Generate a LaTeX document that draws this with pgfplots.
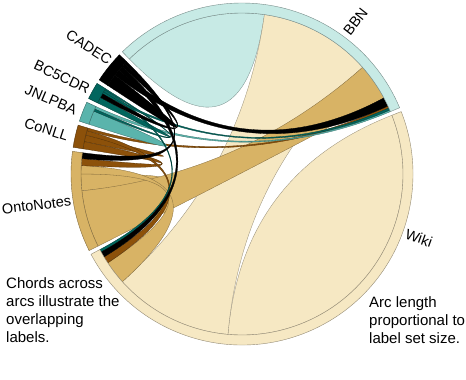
\documentclass[border=0pt]{standalone}
\usepackage{pgfplots}
\pgfplotsset{compat=1.18}
\usepackage{fontspec}
\setmainfont{Liberation Sans}

% BrBG palette + black for CADEC
\definecolor{cBBN}{HTML}{C7EAE5}
\definecolor{cWiki}{HTML}{F6E8C3}
\definecolor{cOnto}{HTML}{D8B365}
\definecolor{cConll}{HTML}{8C510A}
\definecolor{cJnl}{HTML}{5AB4AC}
\definecolor{cBc}{HTML}{01665E}
\definecolor{cCadec}{HTML}{000000}

% angles in degrees (counter-clockwise), inner radius 161, outer 171
\newcommand\grp[3]{\fill[#3, draw=#3!60!black, line width=0.4pt]
  (#1:161pt) arc[start angle=#1, end angle=#2, radius=161pt]
  -- (#2:171pt) arc[start angle=#2, end angle=#1, radius=171pt] -- cycle;}
\newcommand\rib[5]{\fill[#5, draw=#5!60!black, line width=0.3pt]
  (#1:161pt) arc[start angle=#1, end angle=#2, radius=161pt]
  .. controls (#2:53.67pt) and (#3:53.67pt) .. (#3:161pt)
  arc[start angle=#3, end angle=#4, radius=161pt]
  .. controls (#4:53.67pt) and (#1:53.67pt) .. cycle;}
\newcommand\petal[3]{\fill[#3, draw=#3!60!black, line width=0.3pt]
  (#1:161pt) arc[start angle=#1, end angle=#2, radius=161pt]
  .. controls (#2:53.67pt) and (#1:53.67pt) .. cycle;}
\newcommand\lab{\fontsize{14.5}{17}\selectfont}
\newcommand\note{\fontsize{15}{18}\selectfont}

\begin{document}
\begin{tikzpicture}
\begin{axis}[
  x=1pt, y=1pt,
  xmin=0, xmax=466, ymin=0, ymax=380,
  hide axis,
  clip=false,
]
\begin{scope}[shift={(axis cs:242,206)}]
% self chords
\petal{381.4}{265.0}{cWiki}
\petal{134.4}{82.0}{cBBN}
\petal{186.0}{180.0}{cOnto}
% chords between label sets
\rib{82.0}{41.5}{265.0}{222.0}{cWiki}
\rib{41.5}{28.2}{206.6}{186.0}{cOnto}
\rib{222.0}{213.5}{180.0}{177.0}{cOnto}
\petal{168.4}{166.0}{cConll}
\rib{171.0}{168.4}{177.0}{174.5}{cConll}
\rib{166.0}{164.4}{213.5}{211.0}{cConll}
\rib{164.4}{163.4}{25.0}{24.2}{cConll}
\petal{162.0}{157.0}{cJnl}
\rib{156.2}{155.2}{23.4}{22.8}{cJnl}
\petal{153.8}{151.6}{cBc}
\rib{157.0}{156.2}{148.5}{148.0}{cBc}
\rib{150.1}{149.3}{24.2}{23.4}{cBc}
\rib{149.3}{148.5}{209.0}{208.0}{cBc}
\petal{146.6}{142.1}{cCadec}
\rib{151.6}{150.1}{138.1}{136.8}{cCadec}
\rib{142.1}{139.9}{28.2}{25.0}{cCadec}
\rib{139.9}{138.1}{211.0}{209.0}{cCadec}
\rib{136.8}{135.8}{174.5}{172.4}{cCadec}
% group arcs
\grp{134.4}{22.8}{cBBN}
\grp{21.4}{-152.0}{cWiki}
\grp{206.6}{172.4}{cOnto}
\grp{171.0}{163.4}{cConll}
\grp{162.0}{155.2}{cJnl}
\grp{153.8}{148.0}{cBc}
\grp{146.6}{135.8}{cCadec}
\end{scope}

\node[font=\lab, inner sep=0, rotate=-33] at (axis cs:89,333) {CADEC};
\node[font=\lab, inner sep=0, rotate=-25] at (axis cs:62,303) {BC5CDR};
\node[font=\lab, inner sep=0, rotate=-23] at (axis cs:51,280) {JNLPBA};
\node[font=\lab, inner sep=0, rotate=-18] at (axis cs:46.5,250.5) {CoNLL};
\node[font=\lab, inner sep=0, rotate=7] at (axis cs:36.5,175) {OntoNotes};
\node[font=\lab, inner sep=0, rotate=52] at (axis cs:355.5,358.5) {BBN};
\node[font=\lab, inner sep=0, rotate=-20] at (axis cs:419,142) {Wiki};

\node[font=\note, inner sep=0, anchor=north west, align=left]
  at (axis cs:6,103) {Chords across\\arcs illustrate the\\overlapping\\labels.};
\node[font=\note, inner sep=0, anchor=north west, align=left]
  at (axis cs:369,84) {Arc length\\proportional to\\label set size.};
\end{axis}
\pgfresetboundingbox
\path (current axis.south west) rectangle (current axis.north east);
\end{tikzpicture}
\end{document}
